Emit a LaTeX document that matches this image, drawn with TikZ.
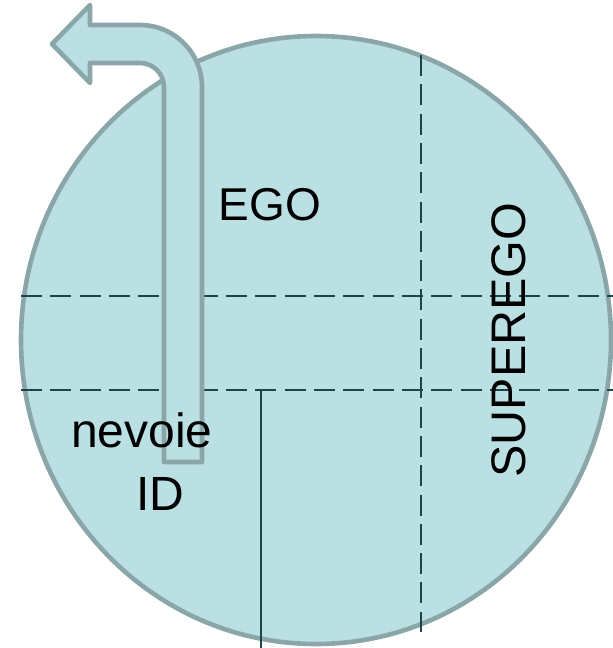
\documentclass[tikz,border=0pt]{standalone}
\usepackage{fontspec}
\setmainfont{Liberation Sans}
\usetikzlibrary{positioning}

\definecolor{psyfill}{HTML}{BAE0E3}
\definecolor{psyedge}{HTML}{8AA6A8}
\definecolor{psyline}{HTML}{1E4447}

\begin{document}
\begin{tikzpicture}[
  x=1pt,y=-1pt,
  lbl/.style={anchor=base,inner sep=0pt,font=\fontsize{48}{54}\selectfont},
  zone/.style={draw=psyline,line width=2.6pt,dash pattern=on 21pt off 8.3pt},
  shell/.style={fill=psyfill,draw=psyedge,line width=4.6pt,line join=round},
]
\useasboundingbox (0,0) rectangle (613,648);
% ---- psyche -------------------------------------------------------------
\draw[shell] (316,340) ellipse [x radius=295pt,y radius=304pt];
\coordinate (hl) at (21,296);  \coordinate (hr) at (613,296);
\coordinate (ll) at (21,390);  \coordinate (lr) at (613,390);
\coordinate (vt) at (421,55);  \coordinate (vb) at (421,632);
\draw[zone] (hl) -- (hr);
\draw[zone] (ll) -- (lr);
\draw[zone] (vt) -- (vb);
\coordinate (st) at (261,390); \coordinate (sb) at (261,648);
\draw[draw=psyline,line width=2.2pt] (st) -- (sb);

% ---- bent arrow -----------------------------------------------------------
\draw[shell] (164,462) -- (202,462) -- (202,87)
  arc[start angle=0,end angle=90,radius=62pt] -- (90,25) -- (90,5)
  -- (52,44) -- (90,83) -- (90,63) -- (140,63)
  arc[start angle=90,end angle=0,radius=24pt] -- cycle;

% ---- labels -------------------------------------------------------------
\node[lbl,font=\fontsize{46}{52}\selectfont] (ego) at (270,220) {EGO};
\node[lbl,rotate=90,font=\fontsize{48.5}{54}\selectfont] (superego) at (525,340) {SUPEREGO};
\node[lbl] (nevoie) at (142,447) {nevoie};
\node[lbl] (id) at (160,510) {ID};
\end{tikzpicture}
\end{document}
